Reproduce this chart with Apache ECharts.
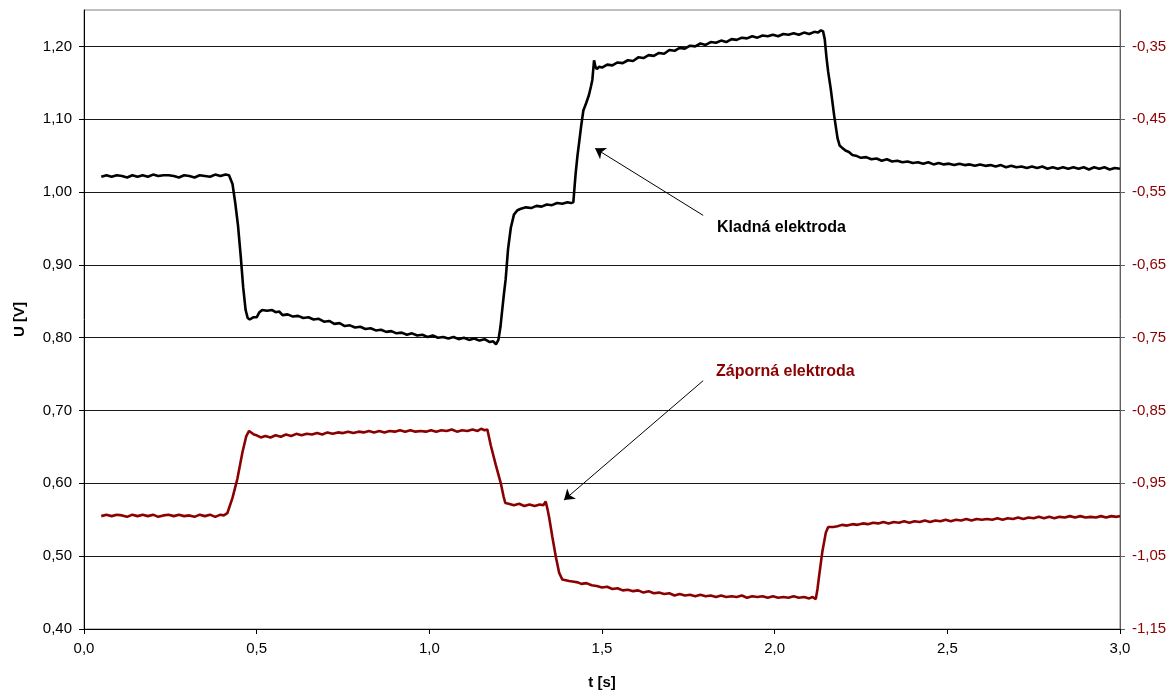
<!DOCTYPE html>
<html>
<head>
<meta charset="utf-8">
<script src="https://cdn.jsdelivr.net/npm/echarts@6/dist/echarts.min.js"></script>
<style>html,body{margin:0;padding:0;background:#fff}#c{width:1173px;height:695px}</style>
</head>
<body>
<div id="c"></div>
<script>
// ---- Data ----
const xTicks = [0.0, 0.5, 1.0, 1.5, 2.0, 2.5, 3.0];
const leftTicks = [0.40, 0.50, 0.60, 0.70, 0.80, 0.90, 1.00, 1.10, 1.20];
const rightTicks = [-1.15, -1.05, -0.95, -0.85, -0.75, -0.65, -0.55, -0.45, -0.35];

// Kladná elektroda (left axis, U [V])
const kladnaT = [0.050,0.065,0.080,0.095,0.110,0.125,0.140,0.155,0.170,0.185,0.200,0.215,0.230,0.245,0.260,0.275,0.290,0.305,0.320,0.335,0.350,0.365,0.380,0.395,0.410,0.420,
0.430,0.438,0.446,0.454,0.461,0.468,0.474,0.480,0.490,0.500,0.508,0.516,0.530,0.545,0.555,0.565,0.575,0.590,0.605,0.620,0.635,0.650,0.665,0.680,0.695,0.710,0.725,0.740,0.755,0.770,0.785,0.800,0.815,0.830,0.845,0.860,0.875,0.890,0.905,0.920,0.935,0.950,0.965,0.980,0.995,1.010,1.025,1.040,1.055,1.070,1.085,1.100,1.115,1.130,1.145,1.160,1.175,1.185,1.193,1.200,
1.206,1.211,1.216,1.221,1.228,1.236,1.245,1.255,1.265,1.280,1.295,1.310,1.325,1.340,1.355,1.370,1.385,1.400,1.410,1.417,
1.421,1.424,1.429,1.434,1.440,1.446,1.454,1.462,1.468,1.472,1.475,1.477,1.481,1.485,1.492,1.500,
1.515,1.530,1.545,1.560,1.575,1.590,1.605,1.620,1.635,1.650,1.665,1.680,1.695,1.710,1.725,1.740,1.755,1.770,1.785,1.800,1.815,1.830,1.845,1.860,1.875,1.890,1.905,1.920,1.935,1.950,1.965,1.980,1.995,2.010,2.025,2.040,2.055,2.070,2.085,2.100,2.115,2.125,2.134,2.140,
2.145,2.150,2.155,2.162,2.172,2.182,2.188,2.195,2.205,2.215,2.225,2.235,2.250,2.265,2.280,2.295,2.310,2.325,2.340,2.355,2.370,2.385,2.400,2.415,2.430,2.445,2.460,2.475,2.490,2.505,2.520,2.535,2.550,2.565,2.580,2.595,2.610,2.625,2.640,2.655,2.670,2.685,2.700,2.715,2.730,2.745,2.760,2.775,2.790,2.805,2.820,2.835,2.850,2.865,2.880,2.895,2.910,2.925,2.940,2.955,2.970,2.985,3.000];
const kladnaU = [1.021,1.023,1.021,1.023,1.022,1.020,1.023,1.021,1.023,1.021,1.024,1.022,1.023,1.023,1.022,1.020,1.023,1.022,1.020,1.023,1.022,1.021,1.024,1.022,1.024,1.023,
1.011,0.985,0.954,0.911,0.869,0.838,0.827,0.825,0.828,0.828,0.835,0.838,0.837,0.838,0.835,0.836,0.831,0.832,0.829,0.830,0.827,0.828,0.825,0.826,0.822,0.823,0.819,0.820,0.816,0.817,0.814,0.815,0.812,0.813,0.810,0.811,0.808,0.809,0.806,0.807,0.804,0.806,0.803,0.804,0.801,0.803,0.800,0.801,0.799,0.801,0.798,0.800,0.797,0.799,0.796,0.798,0.794,0.795,0.791,0.797,
0.815,0.838,0.860,0.880,0.922,0.951,0.969,0.975,0.977,0.979,0.978,0.981,0.980,0.983,0.982,0.985,0.984,0.986,0.985,0.986,
1.010,1.027,1.050,1.069,1.092,1.112,1.122,1.133,1.145,1.154,1.170,1.181,1.172,1.169,1.172,1.171,
1.175,1.174,1.178,1.177,1.181,1.180,1.185,1.184,1.188,1.187,1.191,1.190,1.195,1.194,1.198,1.197,1.201,1.200,1.204,1.202,1.206,1.205,1.208,1.206,1.210,1.209,1.212,1.211,1.214,1.212,1.215,1.214,1.216,1.214,1.217,1.216,1.218,1.216,1.219,1.217,1.220,1.219,1.222,1.221,
1.210,1.185,1.165,1.143,1.106,1.074,1.064,1.061,1.057,1.055,1.051,1.050,1.047,1.048,1.045,1.046,1.043,1.045,1.042,1.043,1.041,1.042,1.040,1.041,1.039,1.041,1.038,1.040,1.038,1.039,1.037,1.039,1.037,1.038,1.036,1.038,1.036,1.037,1.035,1.037,1.034,1.036,1.034,1.035,1.033,1.035,1.033,1.035,1.032,1.034,1.032,1.034,1.032,1.034,1.032,1.034,1.031,1.034,1.032,1.034,1.031,1.033,1.032];

// Záporná elektroda (right axis, U [V])
const zapornaT = [0.050,0.065,0.080,0.095,0.110,0.125,0.140,0.155,0.170,0.185,0.200,0.215,0.230,0.245,0.260,0.275,0.290,0.305,0.320,0.335,0.350,0.365,0.380,0.395,0.405,0.415,
0.430,0.444,0.459,0.470,0.478,0.483,0.492,0.500,0.512,0.525,0.540,0.555,0.570,0.585,0.600,0.615,0.630,0.645,0.660,0.675,0.690,0.705,0.720,0.735,0.750,0.765,0.780,0.795,0.810,0.825,0.840,0.855,0.870,0.885,0.900,0.915,0.930,0.945,0.960,0.975,0.990,1.005,1.020,1.035,1.050,1.065,1.080,1.095,1.110,1.125,1.140,1.150,1.160,1.168,
1.178,1.192,1.207,1.215,1.220,1.230,1.245,1.260,1.275,1.290,1.305,1.320,1.330,1.337,
1.342,1.347,1.356,1.366,1.376,1.385,1.395,1.405,1.419,1.430,1.440,1.455,1.470,1.485,1.500,1.515,1.530,1.545,1.560,1.575,1.590,1.605,1.620,1.635,1.650,1.665,1.680,1.695,1.710,1.725,1.740,1.755,1.770,1.785,1.800,1.815,1.830,1.845,1.860,1.875,1.890,1.905,1.920,1.935,1.950,1.965,1.980,1.995,2.010,2.025,2.040,2.055,2.070,2.085,2.100,2.110,2.119,
2.124,2.129,2.138,2.148,2.155,2.160,2.170,2.182,2.195,2.210,2.225,2.240,2.255,2.270,2.285,2.300,2.315,2.330,2.345,2.360,2.375,2.390,2.405,2.420,2.435,2.450,2.465,2.480,2.495,2.510,2.525,2.540,2.555,2.570,2.585,2.600,2.615,2.630,2.645,2.660,2.675,2.690,2.705,2.720,2.735,2.750,2.765,2.780,2.795,2.810,2.825,2.840,2.855,2.870,2.885,2.900,2.915,2.930,2.945,2.960,2.975,2.990,3.000];
const zapornaU = [-0.995,-0.993,-0.995,-0.993,-0.994,-0.996,-0.993,-0.995,-0.993,-0.995,-0.993,-0.996,-0.994,-0.993,-0.995,-0.993,-0.995,-0.994,-0.996,-0.993,-0.995,-0.993,-0.996,-0.993,-0.994,-0.991,
-0.970,-0.944,-0.907,-0.885,-0.878,-0.879,-0.883,-0.884,-0.887,-0.885,-0.887,-0.884,-0.886,-0.883,-0.885,-0.882,-0.884,-0.882,-0.883,-0.881,-0.883,-0.880,-0.882,-0.880,-0.881,-0.879,-0.881,-0.879,-0.880,-0.878,-0.880,-0.878,-0.880,-0.878,-0.879,-0.877,-0.879,-0.877,-0.879,-0.878,-0.879,-0.877,-0.879,-0.877,-0.878,-0.876,-0.879,-0.877,-0.878,-0.876,-0.878,-0.875,-0.877,-0.876,
-0.898,-0.924,-0.950,-0.968,-0.977,-0.978,-0.980,-0.978,-0.981,-0.979,-0.981,-0.979,-0.980,-0.975,
-0.985,-0.997,-1.023,-1.050,-1.073,-1.082,-1.083,-1.084,-1.085,-1.086,-1.088,-1.087,-1.090,-1.091,-1.093,-1.092,-1.095,-1.094,-1.097,-1.096,-1.098,-1.097,-1.100,-1.098,-1.101,-1.100,-1.102,-1.101,-1.104,-1.102,-1.104,-1.103,-1.105,-1.103,-1.105,-1.104,-1.106,-1.104,-1.106,-1.105,-1.106,-1.104,-1.107,-1.105,-1.106,-1.105,-1.107,-1.105,-1.107,-1.106,-1.107,-1.105,-1.107,-1.106,-1.108,-1.106,-1.109,
-1.095,-1.076,-1.044,-1.018,-1.010,-1.008,-1.010,-1.009,-1.007,-1.008,-1.006,-1.007,-1.005,-1.006,-1.004,-1.005,-1.003,-1.005,-1.003,-1.004,-1.002,-1.004,-1.002,-1.003,-1.001,-1.003,-1.001,-1.002,-1.000,-1.002,-1.000,-1.001,-0.999,-1.001,-0.999,-1.000,-0.999,-1.000,-0.998,-1.000,-0.998,-0.999,-0.997,-0.999,-0.997,-0.998,-0.996,-0.998,-0.996,-0.998,-0.996,-0.997,-0.995,-0.997,-0.995,-0.997,-0.996,-0.997,-0.995,-0.997,-0.995,-0.996,-0.995];

// Annotations (data coordinates on the left axis)
const arrowKladna = [[1.793, 0.968], [1.480, 1.060]];
const arrowZaporna = [[1.793, 0.741], [1.390, 0.577]];
const labelKladna = [1.833, 0.951];
const labelZaporna = [1.830, 0.753];

// ---- Chart ----
const RED = '#8b0000';
const FONT = 'Liberation Sans, Arial, sans-serif';
const zip = (a, b) => a.map((v, i) => [v, b[i]]);
const comma = (v, d) => v.toFixed(d).replace('.', ',');
const near = (v, arr) => arr.some(t => Math.abs(t - v) < 1e-6);

const chart = echarts.init(document.getElementById('c'), null, {renderer: 'canvas'});
chart.setOption({
  animation: false,
  backgroundColor: '#fff',
  textStyle: {fontFamily: FONT},
  grid: {left: 84, right: 53, top: 10, bottom: 66, show: true, borderColor: '#808080', borderWidth: 1, backgroundColor: 'transparent'},
  xAxis: {
    type: 'value', min: 0, max: 3, interval: 0.5,
    name: 't [s]', nameLocation: 'middle', nameGap: 46,
    nameTextStyle: {fontFamily: FONT, fontSize: 15, fontWeight: 'bold', color: '#000'},
    axisLine: {show: true, onZero: false, lineStyle: {color: '#000', width: 1}},
    axisTick: {show: true, inside: false, length: 5, lineStyle: {color: '#000'}},
    axisLabel: {fontFamily: FONT, fontSize: 15, color: '#000', margin: 12,
      formatter: v => near(v, xTicks) ? comma(v, 1) : ''},
    splitLine: {show: false}
  },
  yAxis: [{
    type: 'value', position: 'left', min: 0.4, max: 1.25, interval: 0.1,
    name: 'U [V]', nameLocation: 'middle', nameGap: 57, nameRotate: 90,
    nameTextStyle: {fontFamily: FONT, fontSize: 15, fontWeight: 'bold', color: '#000'},
    axisLine: {show: true, onZero: false, lineStyle: {color: '#000', width: 1}},
    axisTick: {show: true, inside: false, length: 5, lineStyle: {color: '#000'}, customValues: leftTicks},
    axisLabel: {fontFamily: FONT, fontSize: 15, color: '#000', margin: 12, customValues: leftTicks,
      formatter: v => near(v, leftTicks) ? comma(v, 2) : ''},
    splitLine: {show: true, lineStyle: {color: '#1a1a1a', width: 1}}
  }, {
    type: 'value', position: 'right', min: -1.15, max: -0.30, interval: 0.1,
    axisLine: {show: true, onZero: false, lineStyle: {color: '#606060', width: 1}},
    axisTick: {show: true, inside: false, length: 5, lineStyle: {color: '#606060'}, customValues: rightTicks},
    axisLabel: {fontFamily: FONT, fontSize: 15, color: RED, margin: 12, customValues: rightTicks,
      formatter: v => near(v, rightTicks) ? comma(v, 2) : ''},
    splitLine: {show: false}
  }],
  series: [{
    name: 'Kladná elektroda', type: 'line', yAxisIndex: 0,
    data: zip(kladnaT, kladnaU), showSymbol: false, symbol: 'none',
    lineStyle: {color: '#000', width: 2.6}, itemStyle: {color: '#000'}, z: 3,
    markLine: {
      silent: true, symbol: ['none', 'arrow'], symbolSize: 10, precision: 3,
      label: {show: false},
      lineStyle: {color: '#000', width: 1, type: 'solid'},
      itemStyle: {color: '#000'},
      data: [
        [{coord: arrowKladna[0]}, {coord: arrowKladna[1]}],
        [{coord: arrowZaporna[0]}, {coord: arrowZaporna[1]}]
      ]
    },
    markPoint: {
      silent: true, symbol: 'circle', symbolSize: 0,
      data: [
        {coord: labelKladna, label: {show: true, position: 'right', distance: 0, formatter: 'Kladná elektroda',
          fontFamily: FONT, fontSize: 16, fontWeight: 'bold', color: '#000'}},
        {coord: labelZaporna, label: {show: true, position: 'right', distance: 0, formatter: 'Záporná elektroda',
          fontFamily: FONT, fontSize: 16, fontWeight: 'bold', color: RED}}
      ]
    }
  }, {
    name: 'Záporná elektroda', type: 'line', yAxisIndex: 1,
    data: zip(zapornaT, zapornaU), showSymbol: false, symbol: 'none',
    lineStyle: {color: RED, width: 2.6}, itemStyle: {color: RED}, z: 3
  }]
});
</script>
</body>
</html>
